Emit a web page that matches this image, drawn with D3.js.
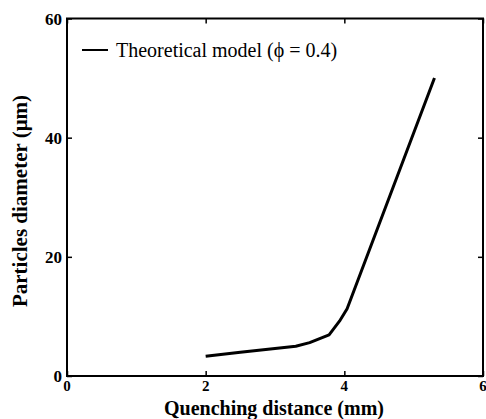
<!DOCTYPE html>
<html>
<head>
<meta charset="utf-8">
<script src="https://cdn.jsdelivr.net/npm/d3@7"></script>
<style>
  body { margin: 0; background: #fff; }
  svg text { font-family: "Liberation Serif", "Times New Roman", serif; }
</style>
</head>
<body>
<svg id="chart" width="486" height="419"></svg>
<script>
// curve: quenching distance (mm) vs particle diameter (um)
const distance = [2.0, 2.5, 3.0, 3.3, 3.5, 3.78, 3.93, 4.04, 5.3];
const diameter = [3.3, 4.0, 4.6, 5.0, 5.6, 6.9, 9.2, 11.3, 50];
const xTicks = [0, 2, 4, 6];
const yTicks = [0, 20, 40, 60];
const legendLabel = "Theoretical model (\u03d5 = 0.4)";

let svg = d3.select('#chart');

// plot frame (names avoid window.top)
let plotLeft = 67, plotRight = 483, plotTop = 18.5, plotBottom = 376;

let x = d3.scaleLinear().domain([0, 6]).range([plotLeft, plotRight]);
let y = d3.scaleLinear().domain([0, 60]).range([plotBottom, plotTop]);

// box around the plot
svg.append('rect')
    .attr('x', plotLeft).attr('y', plotTop)
    .attr('width', plotRight - plotLeft).attr('height', plotBottom - plotTop)
    .attr('fill', 'none').attr('stroke', '#000').attr('stroke-width', 2);

// inward ticks on all four sides, labels only on bottom and left
let tickLen = 5;
svg.append('g')
    .attr('transform', `translate(0,${plotBottom})`)
    .call(d3.axisTop(x).tickValues(xTicks).tickSize(tickLen).tickFormat(''))
    .call(g => g.select('.domain').remove());
svg.append('g')
    .attr('transform', `translate(0,${plotTop})`)
    .call(d3.axisBottom(x).tickValues(xTicks).tickSize(tickLen).tickFormat(''))
    .call(g => g.select('.domain').remove());
svg.append('g')
    .attr('transform', `translate(${plotLeft},0)`)
    .call(d3.axisRight(y).tickValues(yTicks).tickSize(tickLen).tickFormat(''))
    .call(g => g.select('.domain').remove());
svg.append('g')
    .attr('transform', `translate(${plotRight},0)`)
    .call(d3.axisLeft(y).tickValues(yTicks).tickSize(tickLen).tickFormat(''))
    .call(g => g.select('.domain').remove());
svg.selectAll('.tick line').attr('stroke', '#000').attr('stroke-width', 1.5);

// tick labels
svg.append('g').selectAll('text')
    .data(xTicks)
    .join('text')
    .attr('x', d => x(d))
    .attr('y', plotBottom + 15)
    .attr('text-anchor', 'middle')
    .attr('font-size', 15)
    .attr('font-weight', 'bold')
    .text(d => d);
svg.append('g').selectAll('text')
    .data(yTicks)
    .join('text')
    .attr('x', plotLeft - 5)
    .attr('y', d => y(d) + 6)
    .attr('text-anchor', 'end')
    .attr('font-size', 17)
    .attr('font-weight', 'bold')
    .text(d => d);

// axis titles
svg.append('text')
    .attr('x', 274).attr('y', 415)
    .attr('text-anchor', 'middle')
    .attr('font-size', 20)
    .attr('font-weight', 'bold')
    .text('Quenching distance (mm)');
svg.append('text')
    .attr('transform', 'translate(27,201) rotate(-90)')
    .attr('text-anchor', 'middle')
    .attr('font-size', 21)
    .attr('font-weight', 'bold')
    .text('Particles diameter (\u03bcm)');

// the model curve
let line = d3.line()
    .x((d, i) => x(distance[i]))
    .y((d, i) => y(diameter[i]));
svg.append('path')
    .datum(diameter)
    .attr('d', line)
    .attr('fill', 'none')
    .attr('stroke', '#000')
    .attr('stroke-width', 3)
    .attr('stroke-linejoin', 'round');

// legend
svg.append('line')
    .attr('x1', 82).attr('x2', 108)
    .attr('y1', 50).attr('y2', 50)
    .attr('stroke', '#000').attr('stroke-width', 2);
svg.append('text')
    .attr('x', 116).attr('y', 57)
    .attr('font-size', 20)
    .text(legendLabel);
</script>
</body>
</html>
